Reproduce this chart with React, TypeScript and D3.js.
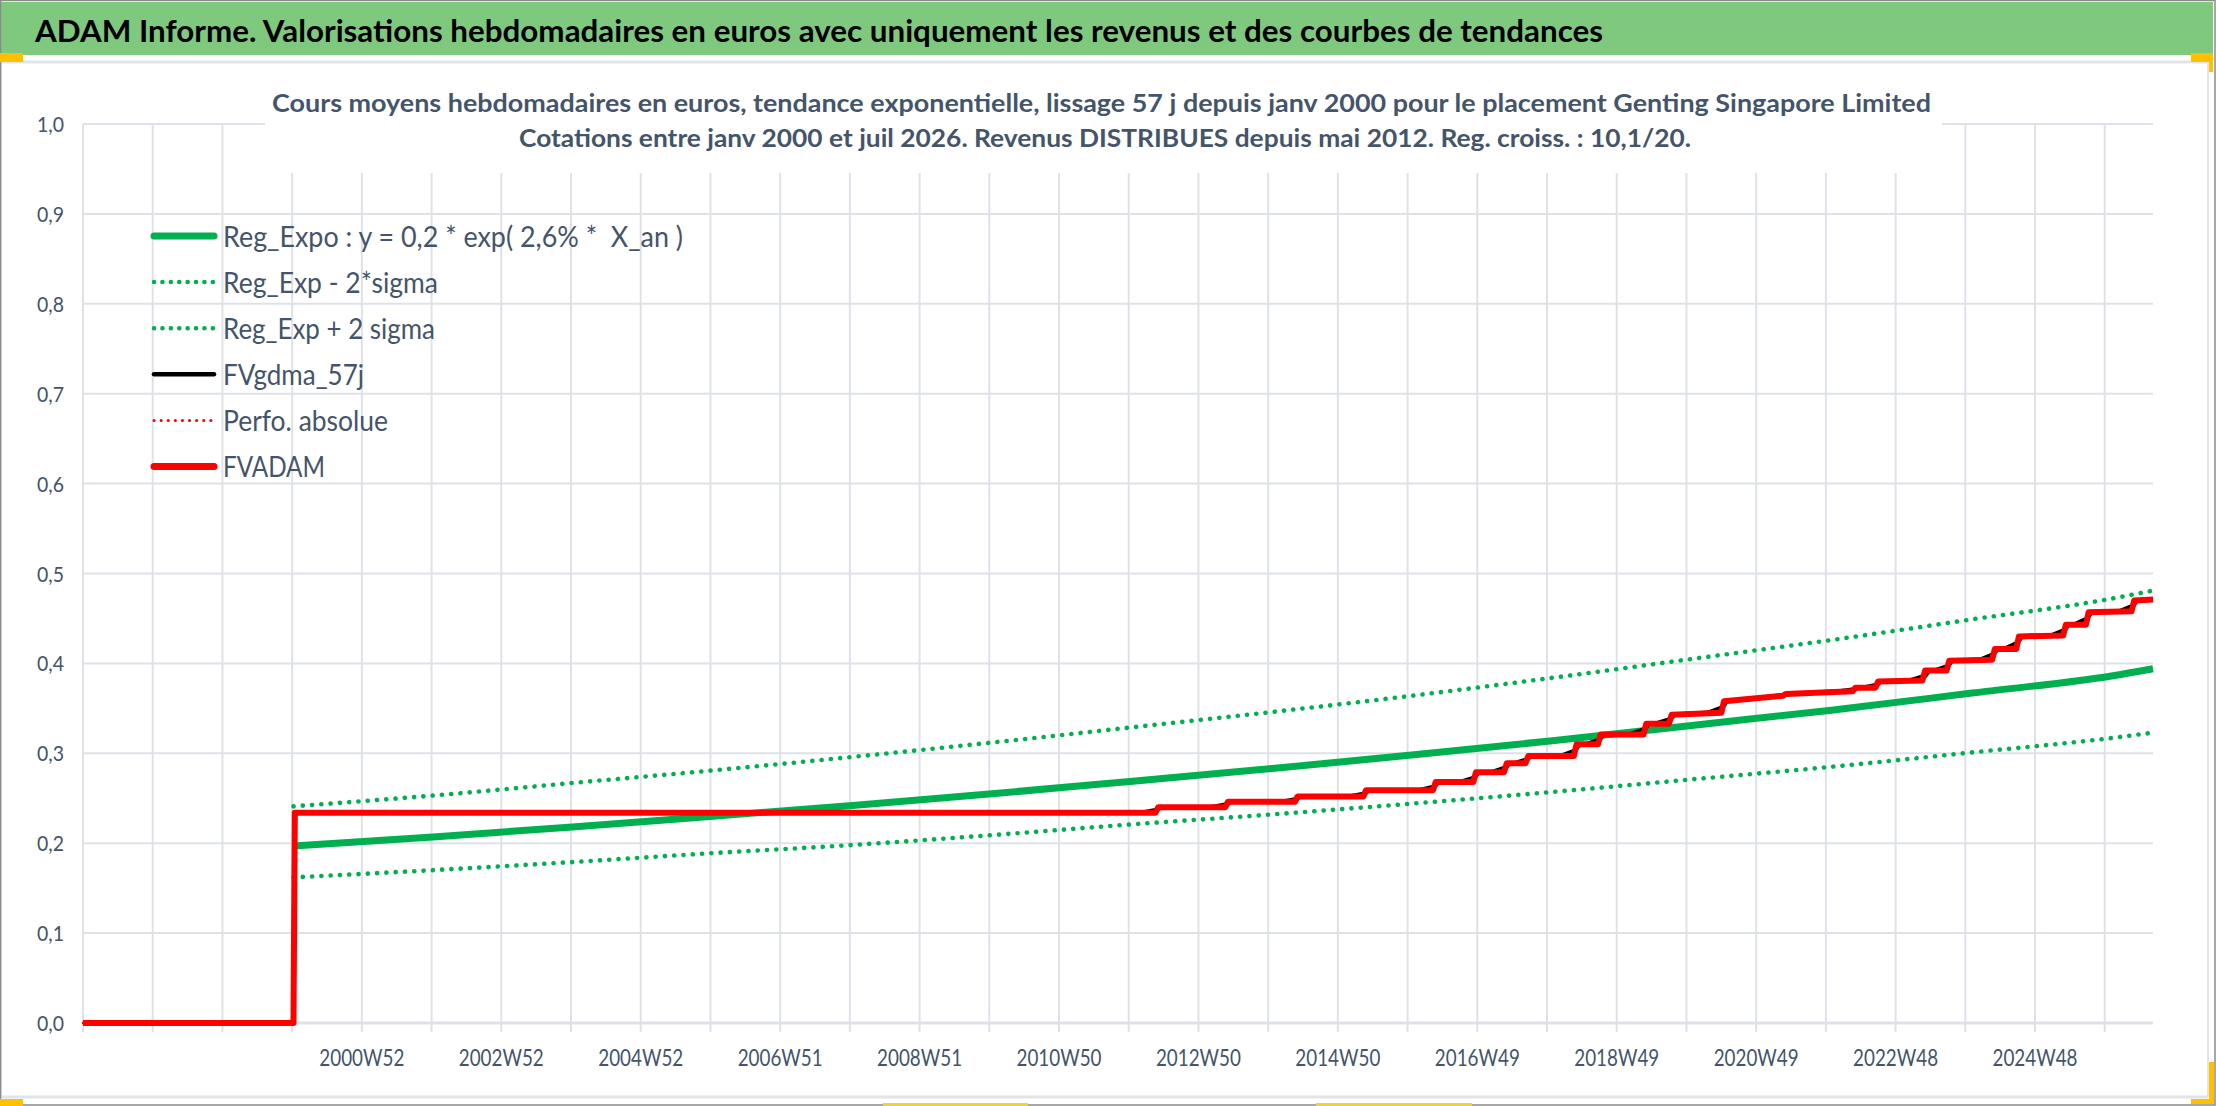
import React from "react";
import * as d3 from "d3";

// ---- data ----
const mainTitle =
  "ADAM Informe. Valorisations hebdomadaires en euros avec uniquement les revenus et des courbes de tendances";
const subTitle1 =
  "Cours moyens hebdomadaires en euros, tendance exponentielle, lissage 57 j depuis janv 2000 pour le placement Genting Singapore Limited";
const subTitle2 =
  "Cotations entre janv 2000 et juil 2026. Revenus DISTRIBUES depuis mai 2012. Reg. croiss. : 10,1/20.";

// weekly categories on the x axis (first ones are blank, quotes start in 2000)
const WEEK_COUNT = 1544;
const TICK_EVERY = 52;

const tickLabels = [
  "2000W52", "2002W52", "2004W52", "2006W51", "2008W51", "2010W50", "2012W50",
  "2014W50", "2016W49", "2018W49", "2020W49", "2022W48", "2024W48",
];
const tickLabelWeeks = [208, 312, 416, 520, 624, 728, 832, 936, 1040, 1144, 1248, 1352, 1456];

const yTicks = [0, 0.1, 0.2, 0.3, 0.4, 0.5, 0.6, 0.7, 0.8, 0.9, 1.0];

// exponential regression and its +/- 2 sigma band
const regWeeks = [157, 261, 365, 470, 574, 678, 783, 887, 991, 1096, 1200, 1304, 1409, 1513, 1544];
const regExpo = [0.197, 0.207, 0.218, 0.23, 0.242, 0.255, 0.269, 0.283, 0.298, 0.314, 0.331, 0.348, 0.367, 0.386, 0.394];
const regLow = [0.162, 0.17, 0.179, 0.189, 0.198, 0.209, 0.221, 0.232, 0.244, 0.257, 0.271, 0.285, 0.301, 0.317, 0.323];
const regHigh = [0.241, 0.253, 0.267, 0.281, 0.296, 0.312, 0.329, 0.346, 0.364, 0.384, 0.405, 0.426, 0.449, 0.472, 0.481];

// FVADAM [week, value]
const fvadam: [number, number][] = [
  [0, 0], [157, 0], [158, 0.234], [800, 0.234], [802, 0.24], [852, 0.24], [854, 0.246],
  [904, 0.246], [906, 0.252], [955, 0.252], [957, 0.259], [1007, 0.259], [1009, 0.268],
  [1037, 0.268], [1039, 0.279], [1060, 0.279], [1062, 0.289], [1076, 0.289], [1078, 0.297],
  [1112, 0.297], [1114, 0.31], [1130, 0.31], [1132, 0.321], [1164, 0.321], [1166, 0.333],
  [1183, 0.333], [1185, 0.343], [1222, 0.345], [1224, 0.358], [1268, 0.364], [1270, 0.366],
  [1320, 0.369], [1322, 0.373], [1337, 0.373], [1339, 0.38], [1372, 0.381], [1374, 0.392],
  [1390, 0.392], [1392, 0.403], [1424, 0.404], [1426, 0.416], [1442, 0.416], [1444, 0.43],
  [1477, 0.431], [1479, 0.443], [1494, 0.443], [1496, 0.457], [1528, 0.458], [1530, 0.47],
  [1544, 0.471],
];

// FVgdma_57j (smoothed, leads the steps a little)
const fvgdma: [number, number][] = [
  [0, 0], [157, 0], [158, 0.234], [790, 0.234], [801, 0.237], [804, 0.24],
  [842, 0.24], [853, 0.243], [856, 0.246], [894, 0.246], [905, 0.249], [908, 0.252],
  [945, 0.252], [956, 0.255], [959, 0.259], [997, 0.259], [1008, 0.263], [1011, 0.268],
  [1027, 0.268], [1038, 0.273], [1041, 0.279], [1051, 0.279], [1061, 0.284], [1064, 0.289],
  [1068, 0.289], [1077, 0.293], [1080, 0.297], [1102, 0.297], [1113, 0.303], [1116, 0.31],
  [1121, 0.31], [1131, 0.315], [1134, 0.321], [1154, 0.321], [1165, 0.327], [1168, 0.333],
  [1173, 0.333], [1184, 0.338], [1187, 0.343], [1212, 0.345], [1223, 0.351], [1226, 0.358],
  [1259, 0.363], [1270, 0.365], [1273, 0.366], [1311, 0.369], [1321, 0.371], [1324, 0.373],
  [1328, 0.373], [1338, 0.376], [1341, 0.38], [1363, 0.381], [1374, 0.386], [1377, 0.392],
  [1381, 0.392], [1391, 0.397], [1394, 0.403], [1415, 0.404], [1425, 0.41], [1428, 0.416],
  [1433, 0.416], [1443, 0.423], [1446, 0.43], [1468, 0.431], [1478, 0.437], [1481, 0.443],
  [1485, 0.443], [1495, 0.45], [1498, 0.457], [1519, 0.458], [1529, 0.464], [1532, 0.47],
  [1544, 0.471],
];

// Perfo. absolue lies under FVADAM
const perfoAbsolue = fvadam;

const legendLabels = [
  "Reg_Expo : y = 0,2 * exp( 2,6% *  X_an )",
  "Reg_Exp - 2*sigma",
  "Reg_Exp + 2 sigma",
  "FVgdma_57j",
  "Perfo. absolue",
  "FVADAM",
];

// ---- layout ----
const W = 2216;
const H = 1106;
const plot = { left: 83, right: 2153, top: 124, bottom: 1023 };
const FONT = "Lato, 'Noto Sans', sans-serif";
const TEXT = "#44546A";
const GRID = "#DEE2E8";
const GREEN = "#00B050";
const RED = "#FF0000";
const ORANGE = "#FFC000";

const legendStyles = [
  { color: GREEN, width: 7, dash: undefined, cap: "round", textWidth: 460 },
  { color: GREEN, width: 4.5, dash: "0.1 8.3", cap: "round", textWidth: 215 },
  { color: GREEN, width: 4.5, dash: "0.1 8.3", cap: "round", textWidth: 212 },
  { color: "#000000", width: 4.5, dash: undefined, cap: "round", textWidth: 141 },
  { color: RED, width: 3, dash: "0.1 7", cap: "round", textWidth: 165 },
  { color: RED, width: 7, dash: undefined, cap: "round", textWidth: 102 },
];

const x = d3.scaleLinear().domain([0, WEEK_COUNT]).range([plot.left, plot.right]);
const y = d3.scaleLinear().domain([0, 1]).range([plot.bottom, plot.top]);
const fmt = (v: number) => d3.format(".1f")(v).replace(".", ",");

const gridWeeks = d3.range(0, WEEK_COUNT, TICK_EVERY);

const regLine = d3
  .line<number>()
  .x((_, i) => x(regWeeks[i]))
  .y((d) => y(d))
  .curve(d3.curveMonotoneX);

const pairLine = d3
  .line<[number, number]>()
  .x((d) => x(d[0]))
  .y((d) => y(d[1]));

const App: React.FC = () => {
  return (
    <svg
      width={W}
      height={H}
      viewBox={`0 0 ${W} ${H}`}
      style={{ position: "absolute", left: 0, top: 0, background: "#fff" }}
      fontFamily={FONT}
    >
      {/* frame + header band */}
      <rect x={0} y={0} width={W} height={H} fill="#fff" />
      <rect x={0} y={2} width={2213} height={53} fill="#7FC97F" />
      <text
        x={35}
        y={42}
        fontSize={30}
        fontWeight={700}
        fill="#000"
        textLength={1568}
        lengthAdjust="spacingAndGlyphs"
      >
        {mainTitle}
      </text>
      <line x1={0} x2={2208} y1={62} y2={62} stroke="#E1E4E8" strokeWidth={3} />
      <line x1={2208} x2={2208} y1={62} y2={1097} stroke="#E1E4E8" strokeWidth={2} />
      <line x1={0} x2={2208} y1={1097} y2={1097} stroke="#E1E4E8" strokeWidth={3} />
      <line x1={1} x2={1} y1={62} y2={1097} stroke="#E1E4E8" strokeWidth={2} />
      <rect x={0.5} y={0.5} width={W - 1.5} height={H - 1.5} fill="none" stroke="#8A8A8A" strokeWidth={1.5} />

      {/* gridlines */}
      <g>
        {yTicks.map((t) => (
          <line
            key={`h${t}`}
            x1={plot.left}
            x2={plot.right}
            y1={y(t)}
            y2={y(t)}
            stroke={GRID}
            strokeWidth={t === 0 ? 3 : 2}
          />
        ))}
        {gridWeeks.map((w) => (
          <line
            key={`v${w}`}
            x1={x(w)}
            x2={x(w)}
            y1={plot.top}
            y2={plot.bottom + 9}
            stroke={GRID}
            strokeWidth={2}
          />
        ))}
      </g>

      {/* y labels */}
      <g fontSize={22} fill={TEXT} textAnchor="end">
        {yTicks.map((t) => (
          <text key={`yl${t}`} x={64} y={y(t) + 8} textLength={27} lengthAdjust="spacingAndGlyphs">
            {fmt(t)}
          </text>
        ))}
      </g>

      {/* x labels */}
      <g fontSize={23} fill={TEXT} textAnchor="middle">
        {tickLabels.map((lab, i) => (
          <text
            key={lab}
            x={x(tickLabelWeeks[i])}
            y={1066}
            textLength={85}
            lengthAdjust="spacingAndGlyphs"
          >
            {lab}
          </text>
        ))}
      </g>

      {/* chart title block (white background over the grid) */}
      <rect x={265} y={70} width={1677} height={103} fill="#fff" />
      <text
        x={1101.5}
        y={112}
        fontSize={24}
        fontWeight={700}
        fill={TEXT}
        textAnchor="middle"
        textLength={1659}
        lengthAdjust="spacingAndGlyphs"
      >
        {subTitle1}
      </text>
      <text
        x={1105}
        y={147}
        fontSize={24}
        fontWeight={700}
        fill={TEXT}
        textAnchor="middle"
        textLength={1172}
        lengthAdjust="spacingAndGlyphs"
      >
        {subTitle2}
      </text>

      {/* series */}
      <g fill="none" strokeLinejoin="round">
        <path d={regLine(regExpo) ?? ""} stroke={GREEN} strokeWidth={7} />
        <path d={regLine(regLow) ?? ""} stroke={GREEN} strokeWidth={4.6} strokeDasharray="0.1 9.2" strokeLinecap="round" />
        <path d={regLine(regHigh) ?? ""} stroke={GREEN} strokeWidth={4.6} strokeDasharray="0.1 9.2" strokeLinecap="round" />
        <path d={pairLine(fvgdma) ?? ""} stroke="#000" strokeWidth={4.5} />
        <path d={pairLine(perfoAbsolue) ?? ""} stroke={RED} strokeWidth={2.5} strokeDasharray="0.1 7" strokeLinecap="round" />
        <path d={pairLine(fvadam) ?? ""} stroke={RED} strokeWidth={6} />
      </g>

      {/* legend */}
      <g fontSize={28} fill={TEXT}>
        {legendLabels.map((lab, i) => {
          const st = legendStyles[i];
          const cy = 236 + i * 46.1;
          return (
            <g key={lab}>
              <line
                x1={154}
                x2={214}
                y1={cy}
                y2={cy}
                stroke={st.color}
                strokeWidth={st.width}
                strokeDasharray={st.dash}
                strokeLinecap={st.cap as any}
              />
              <text
                x={223}
                y={cy + 10.5}
                textLength={st.textWidth}
                lengthAdjust="spacingAndGlyphs"
                style={{ whiteSpace: "pre" }}
              >
                {lab}
              </text>
            </g>
          );
        })}
      </g>

      {/* selection handles */}
      <g fill={ORANGE}>
        <rect x={0} y={53} width={23} height={9} />
        <rect x={2191} y={53} width={22} height={9} />
        <rect x={2209} y={53} width={4} height={19} />
        <rect x={2209} y={1062} width={5} height={42} />
        <rect x={2191} y={1099} width={23} height={5} />
        <rect x={0} y={1099} width={23} height={7} />
      </g>
      <rect x={883} y={1103} width={145} height={3} fill="#E6D34A" />
      <rect x={1316} y={1103} width={156} height={3} fill="#E6D34A" />
    </svg>
  );
};

export default App;
